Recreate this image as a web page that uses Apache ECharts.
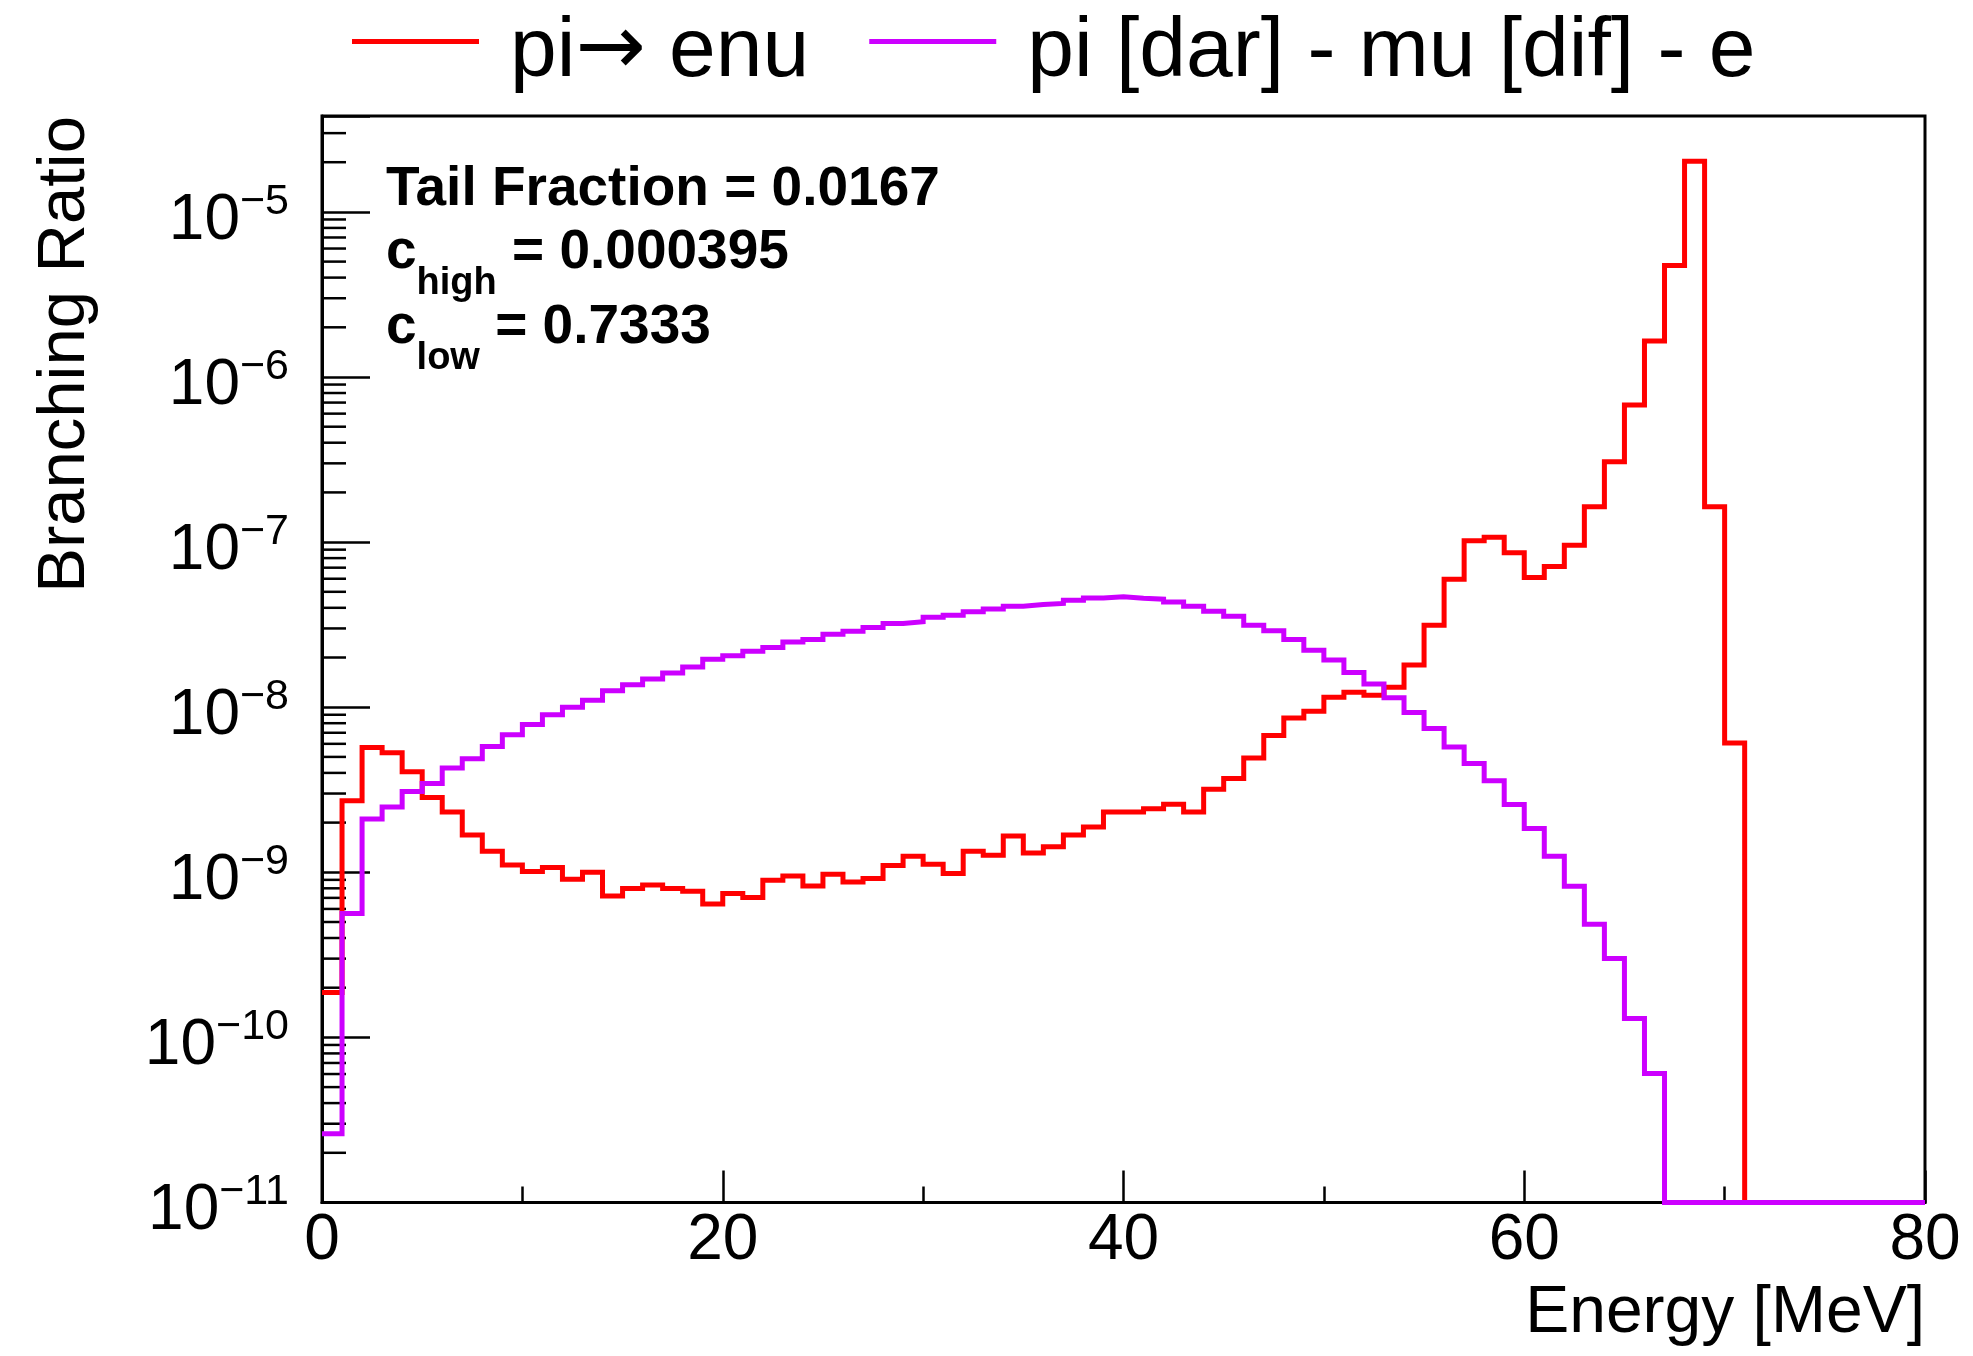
<!DOCTYPE html>
<html>
<head>
<meta charset="utf-8">
<script src="https://cdn.jsdelivr.net/npm/echarts@6/dist/echarts.min.js"></script>
<style>html,body{margin:0;padding:0;background:#fff}#chart{width:1973px;height:1356px}</style>
</head>
<body>
<div id="chart"></div>
<script>
// ---- data ----
const binLow = [0,1,2,3,4,5,6,7,8,9,10,11,12,13,14,15,16,17,18,19,20,21,22,23,24,25,26,27,28,29,30,31,32,33,34,35,36,37,38,39,40,41,42,43,44,45,46,47,48,49,50,51,52,53,54,55,56,57,58,59,60,61,62,63,64,65,66,67,68,69,70,71,72,73,74,75,76,77,78,79];
const binHigh = 80;
const seriesNames = ['pi\u2192 enu', 'pi [dar] - mu [dif] - e'];
const piEnu = [
  1.87e-10, 2.71e-9, 5.7e-9, 5.3e-9, 4.07e-9, 2.84e-9, 2.32e-9, 1.68e-9, 1.34e-9, 1.107e-9,
  1.01e-9, 1.07e-9, 9.08e-10, 1.0e-9, 7.18e-10, 7.98e-10, 8.37e-10, 7.98e-10, 7.68e-10, 6.43e-10,
  7.45e-10, 7.03e-10, 8.95e-10, 9.5e-10, 8.27e-10, 9.73e-10, 8.75e-10, 9.17e-10, 1.10e-9, 1.25e-9,
  1.12e-9, 9.84e-10, 1.34e-9, 1.27e-9, 1.66e-9, 1.31e-9, 1.43e-9, 1.68e-9, 1.88e-9, 2.32e-9,
  2.32e-9, 2.43e-9, 2.58e-9, 2.32e-9, 3.19e-9, 3.70e-9, 4.93e-9, 6.73e-9, 8.61e-9, 9.46e-9,
  1.15e-8, 1.23e-8, 1.18e-8, 1.32e-8, 1.80e-8, 3.14e-8, 5.96e-8, 1.02e-7, 1.07e-7, 8.61e-8,
  6.11e-8, 7.11e-8, 9.58e-8, 1.64e-7, 3.07e-7, 6.76e-7, 1.65e-6, 4.74e-6, 2.03e-5, 1.64e-7,
  6.07e-9, 0, 0, 0, 0, 0, 0, 0, 0, 0
];
const piMuDifE = [
  2.61e-11, 5.62e-10, 2.1e-9, 2.49e-9, 3.09e-9, 3.45e-9, 4.28e-9, 4.87e-9, 5.79e-9, 6.81e-9,
  7.86e-9, 9.0e-9, 1.0e-8, 1.1e-8, 1.26e-8, 1.37e-8, 1.48e-8, 1.61e-8, 1.75e-8, 1.95e-8,
  2.05e-8, 2.18e-8, 2.30e-8, 2.48e-8, 2.57e-8, 2.77e-8, 2.88e-8, 3.04e-8, 3.21e-8, 3.29e-8,
  3.51e-8, 3.61e-8, 3.78e-8, 3.93e-8, 4.09e-8, 4.19e-8, 4.25e-8, 4.45e-8, 4.59e-8, 4.66e-8,
  4.57e-8, 4.51e-8, 4.34e-8, 4.09e-8, 3.81e-8, 3.56e-8, 3.14e-8, 2.90e-8, 2.57e-8, 2.21e-8,
  1.93e-8, 1.62e-8, 1.38e-8, 1.14e-8, 9.29e-9, 7.43e-9, 5.75e-9, 4.56e-9, 3.58e-9, 2.57e-9,
  1.84e-9, 1.25e-9, 8.24e-10, 4.85e-10, 3.01e-10, 1.30e-10, 6.04e-11, 0, 0, 0,
  0, 0, 0, 0, 0, 0, 0, 0, 0, 0
];
const xTicks = [0, 20, 40, 60, 80];
const yMin = 1e-11;
const yMax = 3.81e-5;
const xTitle = 'Energy [MeV]';
const yTitle = 'Branching Ratio';
const statLines = [
  '{m|Tail Fraction = 0.0167}',
  '{m|c}{s|high}{m| = 0.000395}',
  '{m|c}{s|low}{m| = 0.7333}'
];

// ---- build ----
const FONT = "'Liberation Sans', Arial, Helvetica, sans-serif";
function toSteps(vals) {
  const pts = binLow.map((x, i) => [x, vals[i] > 0 ? vals[i] : yMin]);
  pts.push([binHigh, pts[pts.length - 1][1]]);
  return pts;
}
// minor ticks of the log axis: 2..9 x 10^n
const yMinor = [];
for (let n = -11; n <= -5; n++) {
  for (let k = 2; k <= 9; k++) {
    const v = k * Math.pow(10, n);
    if (v < yMax) yMinor.push(v);
  }
}

const chart = echarts.init(document.getElementById('chart'), null, {renderer: 'canvas'});
const option = {
  animation: false,
  backgroundColor: '#fff',
  grid: {left: 322, right: 48, top: 116, bottom: 153.5, containLabel: false, outerBoundsMode: 'none',
         show: true, borderColor: '#000', borderWidth: 3, backgroundColor: 'transparent'},
  legend: {
    left: 352, top: -11.5, padding: 0, itemWidth: 127, itemHeight: 5, itemGap: 60, icon: 'rect',
    selectedMode: false,
    formatter: function (name) { return name.replace('\u2192', '{a|\u2192}'); },
    textStyle: {fontSize: 84, fontFamily: FONT, color: '#000', lineHeight: 84, padding: [22, 0, 0, 26],
      rich: {a: {fontSize: 84, lineHeight: 84, fontFamily: "'DejaVu Sans', sans-serif", color: '#000'}}},
    data: seriesNames
  },
  xAxis: {
    type: 'value', min: xTicks[0], max: xTicks[xTicks.length - 1], interval: 20,
    axisLine: {show: true, lineStyle: {color: '#000', width: 3}},
    axisTick: {show: true, inside: true, length: 32, lineStyle: {color: '#000', width: 2.5}},
    minorTick: {show: true, splitNumber: 2, length: 16, lineStyle: {color: '#000', width: 2.5}},
    splitLine: {show: false},
    axisLabel: {margin: 6.5, fontSize: 64, lineHeight: 64, fontFamily: FONT, color: '#000'}
  },
  yAxis: {
    type: 'log', logBase: 10, min: yMin, max: yMax, splitNumber: 7,
    axisLine: {show: true, lineStyle: {color: '#000', width: 3}},
    axisTick: {show: true, inside: true, length: 48, lineStyle: {color: '#000', width: 2.5}},
    splitLine: {show: false},
    axisLabel: {
      margin: 33, color: '#000', fontFamily: FONT,
      showMinLabel: true, showMaxLabel: true, hideOverlap: false,
      formatter: function (v) {
        const e = Math.log10(v);
        const r = Math.round(e);
        if (Math.abs(e - r) > 1e-6) return '';
        return '{b|10}{s|\u2212' + (-r) + '}';
      },
      rich: {
        b: {fontSize: 64, lineHeight: 64, fontFamily: FONT, color: '#000', padding: [18, 0, 0, 0]},
        s: {fontSize: 43, lineHeight: 43, fontFamily: FONT, color: '#000', padding: [0, 0, 20, 0]}
      }
    }
  },
  series: [
    {
      name: seriesNames[0], type: 'line', step: 'end', data: toSteps(piEnu),
      symbol: 'none', showSymbol: false, clip: false, z: 4,
      lineStyle: {color: '#ff0000', width: 5, join: 'miter', cap: 'butt'},
      itemStyle: {color: '#ff0000'}
    },
    {
      name: seriesNames[1], type: 'line', step: 'end', data: toSteps(piMuDifE),
      symbol: 'none', showSymbol: false, clip: false, z: 5,
      lineStyle: {color: '#cc00ff', width: 5, join: 'miter', cap: 'butt'},
      itemStyle: {color: '#cc00ff'}
    },
    {
      type: 'custom', silent: true, z: 3, clip: false,
      encode: {x: 0, y: 1},
      data: yMinor.map(v => [0, v]),
      renderItem: function (params, api) {
        const p = api.coord([0, api.value(1)]);
        return {type: 'line', shape: {x1: p[0], y1: p[1], x2: p[0] + 24, y2: p[1]}, style: {stroke: '#000', lineWidth: 2.5}};
      }
    }
  ],
  graphic: [
    {type: 'text', x: 66, y: 116, rotation: Math.PI / 2,
     style: {text: yTitle, x: 0, y: 0, align: 'right', verticalAlign: 'middle', fontSize: 67, fontFamily: FONT, fill: '#000'}},
    {type: 'text', x: 1925, y: 1313.5,
     style: {text: xTitle, x: 0, y: 0, align: 'right', verticalAlign: 'middle', fontSize: 66, fontFamily: FONT, fill: '#000'}},
    ...statLines.map((t, i) => ({
      type: 'text', x: 386, y: [190, 253, 328][i],
      style: {
        text: t, x: 0, y: 0, align: 'left', verticalAlign: 'middle', fill: '#000',
        fontSize: 55, fontWeight: 'bold', fontFamily: FONT,
        rich: {
          m: {fontSize: 55, lineHeight: 55, fontWeight: 'bold', fontFamily: FONT, fill: '#000', color: '#000'},
          s: {fontSize: 38, lineHeight: 38, fontWeight: 'bold', fontFamily: FONT, fill: '#000', color: '#000', verticalAlign: 'top', padding: [39, 0, 0, 0]}
        }
      }
    }))
  ]
};
chart.setOption(option);
</script>
</body>
</html>
